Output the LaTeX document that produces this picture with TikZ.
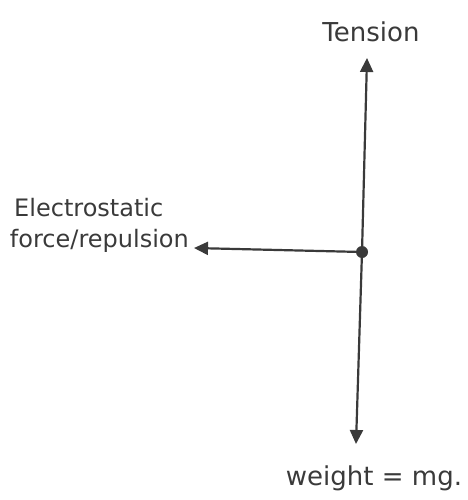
\documentclass[tikz,border=0pt]{standalone}
\usepackage{fontspec}
\setmainfont{DejaVu Sans}
\usetikzlibrary{arrows.meta}
\definecolor{ink}{HTML}{3A3A3A}
\begin{document}
\begin{tikzpicture}[x=1pt,y=-1pt,
  force/.style={draw=ink,line width=2.2pt,-{Triangle[length=14pt,width=13pt]}},
  lbl/.style={text=ink,font=\fontsize{26}{30}\selectfont,inner sep=0pt},
  sidelbl/.style={lbl,font=\fontsize{24}{28}\selectfont}]
\useasboundingbox[fill=white] (0,0) rectangle (467,500);
\node[circle,fill=ink,minimum size=12pt,inner sep=0pt] (dot) at (362,252) {};
\coordinate (up) at (367,58);
\coordinate (down) at (356,444);
\coordinate (left) at (194,248);
\draw[force] (dot.center) -- (up);
\draw[force] (dot.center) -- (down);
\draw[force] (dot.center) -- (left);
\node[lbl] (tension) at (371,32) {Tension};
\node[sidelbl,anchor=west] (elec) at (14,208) {Electrostatic};
\node[sidelbl,anchor=east] (rep) at (189,241) {force/repulsion};
\node[lbl] (weight) at (374,478) {weight = mg.};
\end{tikzpicture}
\end{document}
